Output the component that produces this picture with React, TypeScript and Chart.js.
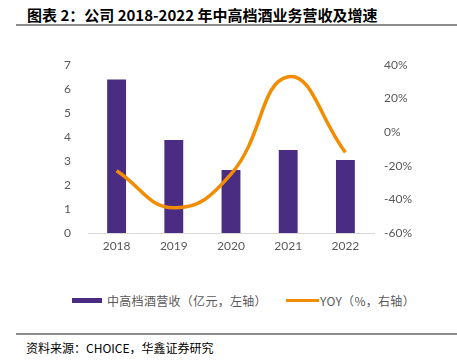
import React, { useEffect, useRef } from "react";
import { Chart, registerables } from "chart.js";

Chart.register(...registerables);

const categories = ["2018", "2019", "2020", "2021", "2022"];
const revenue = [6.4, 3.87, 2.62, 3.46, 3.04];
const yoy = [-23, -45, -25, 33, -12];
const leftTicks = [0, 7, 1];
const rightTicks = [-60, 40, 20];

const barColor = "#4B2C83";
const lineColor = "#F28C00";
const tickColor = "#595959";
const cjkFont = '"Noto Sans CJK SC", "Noto Sans", sans-serif';

export default function App() {
  const ref = useRef<HTMLCanvasElement>(null);

  useEffect(() => {
    if (!ref.current) return;
    const chart = new Chart(ref.current, {
      type: "bar",
      data: {
        labels: categories,
        datasets: [
          {
            type: "line",
            label: "YOY（%，右轴）",
            data: yoy,
            yAxisID: "y1",
            borderColor: lineColor,
            backgroundColor: lineColor,
            borderWidth: 3.5,
            pointRadius: 0,
            tension: 0.45,
            order: 0,
          },
          {
            type: "bar",
            label: "中高档酒营收（亿元，左轴）",
            data: revenue,
            yAxisID: "y",
            backgroundColor: barColor,
            borderWidth: 0,
            barPercentage: 0.33,
            categoryPercentage: 1,
            order: 1,
          },
        ],
      },
      options: {
        responsive: false,
        animation: false,
        layout: { padding: { top: 15, left: 0, right: 0, bottom: 0 } },
        plugins: { legend: { display: false }, tooltip: { enabled: false } },
        scales: {
          x: {
            grid: { display: false, drawTicks: false },
            border: { display: true, color: "#D9D9D9", width: 1 },
            ticks: { color: tickColor, font: { family: "Lato, 'Noto Sans', sans-serif", size: 12 }, padding: 6 },
            afterFit: (s: any) => { s.height = 32; },
          },
          y: {
            position: "left",
            min: leftTicks[0],
            max: leftTicks[1],
            ticks: { stepSize: leftTicks[2], color: tickColor, font: { family: "Lato, 'Noto Sans', sans-serif", size: 12 }, padding: 17 },
            grid: { display: false, drawTicks: false },
            border: { display: false },
            afterFit: (s: any) => { s.width = 48; s.paddingTop = 8; s.paddingBottom = 0; },
          },
          y1: {
            position: "right",
            min: rightTicks[0],
            max: rightTicks[1],
            ticks: {
              stepSize: rightTicks[2],
              color: tickColor,
              font: { family: "Lato, 'Noto Sans', sans-serif", size: 12 },
              padding: 10,
              callback: (v: any) => `${v}%`,
            },
            grid: { display: false, drawTicks: false },
            border: { display: false },
            afterFit: (s: any) => { s.width = 46; s.paddingTop = 8; s.paddingBottom = 0; },
          },
        },
      },
    });
    return () => chart.destroy();
  }, []);

  return (
    <div style={{ position: "absolute", left: 0, top: 0, width: 457, height: 361, background: "#fff", fontFamily: cjkFont }}>
      <div style={{ position: "absolute", left: 27, top: 5, fontSize: 15, fontWeight: 700, color: "#000", whiteSpace: "nowrap", lineHeight: "20px" }}>
        图表 2：公司 2018-2022 年中高档酒业务营收及增速
      </div>
      <div style={{ position: "absolute", left: 16, top: 24, width: 441, height: 1.5, background: "#8C8C8C" }} />
      <canvas ref={ref} width={380} height={215} style={{ position: "absolute", left: 40, top: 50 }} />
      <div style={{ position: "absolute", left: 72, top: 298, width: 30, height: 5, background: barColor }} />
      <div style={{ position: "absolute", left: 107, top: 292, fontSize: 12, color: tickColor, whiteSpace: "nowrap", lineHeight: "17px", letterSpacing: 0.3 }}>
        中高档酒营收（亿元，左轴）
      </div>
      <div style={{ position: "absolute", left: 286, top: 299, width: 33, height: 3, background: lineColor }} />
      <div style={{ position: "absolute", left: 320, top: 292, fontSize: 12, color: tickColor, whiteSpace: "nowrap", lineHeight: "17px", letterSpacing: 0.3 }}>
        YOY（%，右轴）
      </div>
      <div style={{ position: "absolute", left: 16, top: 333, width: 441, height: 1.5, background: "#8C8C8C" }} />
      <div style={{ position: "absolute", left: 26, top: 339, fontSize: 12, color: "#000", whiteSpace: "nowrap", lineHeight: "17px" }}>
        资料来源：CHOICE，华鑫证券研究
      </div>
    </div>
  );
}
